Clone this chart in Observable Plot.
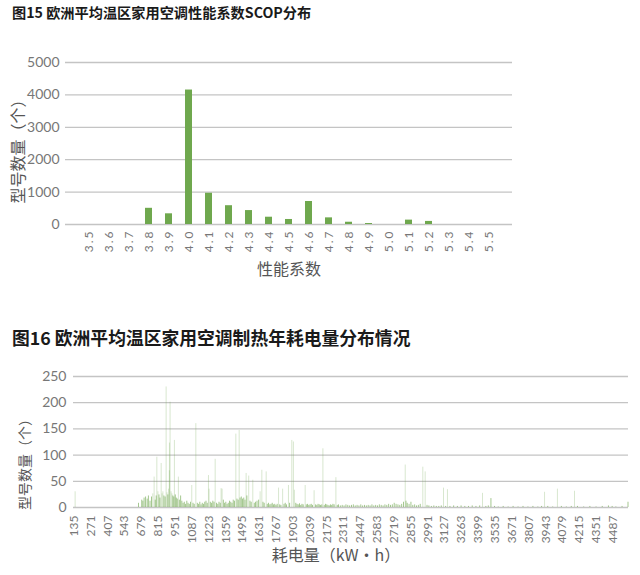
<!DOCTYPE html>
<html><head><meta charset="utf-8">
<script src="https://cdn.jsdelivr.net/npm/d3@7"></script>
<script src="https://cdn.jsdelivr.net/npm/@observablehq/plot@0.6"></script>
<style>
body{margin:0;background:#fff;width:640px;height:575px;position:relative;font-family:"Noto Sans CJK SC",sans-serif;}
.title{position:absolute;left:12px;font-weight:bold;color:#1a1a1a;white-space:nowrap;line-height:22px;}
#c1{position:absolute;top:40px;left:0}
#c2{position:absolute;top:350px;left:0}
#c1 g[aria-label="x-axis tick label"] text{letter-spacing:2px}
</style></head><body>
<div class="title" style="top:1px;font-size:14.2px">图15 欧洲平均温区家用空调性能系数SCOP分布</div>
<div id="c1"></div>
<div class="title" style="top:326px;font-size:17.8px">图16 欧洲平均温区家用空调制热年耗电量分布情况</div>
<div id="c2"></div>
<script>
// ---- Figure 15 data ----
const scopCategories = ["3.5","3.6","3.7","3.8","3.9","4.0","4.1","4.2","4.3","4.4","4.5","4.6","4.7","4.8","4.9","5.0","5.1","5.2","5.3","5.4","5.5"];
const scopCounts = [0,0,0,500,330,4150,965,580,430,225,155,710,205,70,30,0,135,95,0,0,0];
const scopYTicks = [0,1000,2000,3000,4000,5000];

// ---- Figure 16 data ----
const energyKWh = [143,655,681,690,700,712,725,735,748,760,770,781,790,798,803,812,820,828,838,845,852,860,870,878,885,892,898,904,905,910,918,925,932,940,945,952,960,968,977,985,995,
1005,1015,1025,1035,1045,1055,1065,1075,1085,1095,1105,1118,1130,1140,1150,1160,1170,1180,1190,1200,1210,1220,1225,1235,1245,1255,1265,1274,1285,1295,1305,1315,1322,1330,1340,1350,1360,1370,1380,1390,1400,1410,1420,1430,1441,1450,1460,1468,1475,1485,1495,1505,1515,1524,1530,1545,1555,1565,1578,1590,1600,1612,1625,1637,1651,1660,1670,1686,1695,
1705,1715,1725,1735,1745,1755,1765,1775,1786,1795,1805,1819,1830,1840,1850,1866,1875,1893,1906,1914,1925,1935,1945,1955,1965,1975,1985,2001,2010,2020,2030,2040,2050,2060,2073,2085,2095,2105,2115,2125,2135,2144,2155,2165,2175,2185,2195,2205,2215,2225,2235,2249,2260,2270,2285,2300,2315,2330,2345,2360,2375,2390,2405,2420,2435,2450,2465,2480,2495,
2510,2525,2540,2555,2570,2585,2600,2615,2630,2645,2660,2675,2690,2705,2720,2735,2750,2765,2780,2795,2809,2815,2825,2840,2855,2870,2885,2900,2915,2930,2951,2970,2985,3000,3020,3040,3060,3080,3100,3118,3135,3150,3170,3200,3230,3260,3290,3320,3350,3380,3410,3433,3460,3480,3501,3530,3560,3600,3640,3680,3720,3760,3800,3840,3880,3910,3934,3960,4000,4038,4070,4110,4150,4176,4200,4250,4300,4350,4400,4450,4480,4510,4560,4608];
const energyModels = [30,8,14,12,18,20,16,22,12,20,26,58,14,22,96,30,24,18,84,26,30,22,20,230,28,24,35,70,123,201,30,26,22,20,128,24,18,16,58,14,22,
12,8,10,6,12,8,6,10,42,8,6,160,8,6,10,5,8,6,10,12,8,61,35,10,8,12,10,92,8,6,10,8,36,35,14,8,10,6,8,12,10,8,14,12,140,16,14,147,18,20,16,18,14,65,22,60,12,10,52,8,10,12,14,30,71,10,8,68,6,
8,5,6,8,5,6,4,6,37,5,4,35,6,8,5,42,8,128,125,33,8,6,5,7,4,6,5,42,5,6,4,5,6,4,32,5,4,6,5,4,5,112,4,6,5,4,3,5,4,6,5,57,4,5,3,4,3,5,4,3,4,5,3,4,3,5,3,4,3,
4,3,5,3,4,3,5,4,3,5,4,6,4,5,8,6,5,4,6,10,81,12,8,6,10,4,5,3,4,6,77,68,4,3,2,3,2,2,3,37,2,34,2,3,2,3,2,2,3,2,3,27,2,3,17,2,1,2,1,2,1,2,1,2,1,2,29,2,1,35,2,1,2,31,2,1,2,1,2,3,2,1,2,10];
const energyTicks = [135,271,407,543,679,815,951,1087,1223,1359,1495,1631,1767,1903,2039,2175,2311,2447,2583,2719,2855,2991,3127,3263,3399,3535,3671,3807,3943,4079,4215,4351,4487];
const energyYTicks = [0,50,100,150,200,250];

const green = "#6fa84e";
const grid = "#c4c4c4";
const tickFont = "Lato, 'Open Sans', sans-serif";
const cjk = "'Noto Sans CJK SC', sans-serif";

const scopData = scopCategories.map((c, i) => ({c, n: scopCounts[i]}));
const chart1 = Plot.plot({
  width: 640, height: 250,
  marginTop: 22, marginBottom: 66, marginLeft: 65, marginRight: 128,
  style: {fontFamily: tickFont, color: "#777", background: "#fff"},
  x: {domain: scopCategories, padding: 0.64},
  y: {domain: [0, 5000]},
  marks: [
    Plot.gridY(scopYTicks, {stroke: grid, strokeOpacity: 1, strokeWidth: 1.3}),
    Plot.barY(scopData, {x: "c", y: "n", fill: green}),
    Plot.axisY({ticks: scopYTicks, tickFormat: d => String(d), tickSize: 0, tickPadding: 6, fontSize: 14, label: null, fill: "#777"}),
    Plot.axisX({tickRotate: -90, tickSize: 0, tickPadding: 5, fontSize: 12, label: null, fill: "#777"}),
    Plot.text(["性能系数"], {frameAnchor: "bottom", dy: 50, fontSize: 16, fill: "#555", fontFamily: cjk}),
    Plot.text(["型号数量（个）"], {frameAnchor: "left", textAnchor: "middle", dx: -47, dy: 4, rotate: -90, fontSize: 16, fill: "#555", fontFamily: cjk})
  ]
});
document.getElementById("c1").appendChild(chart1);

const energyData = energyKWh.map((k, i) => ({k, n: energyModels[i]}));
const chart2 = Plot.plot({
  width: 640, height: 222,
  marginTop: 26, marginBottom: 65, marginLeft: 73, marginRight: 12,
  style: {fontFamily: tickFont, color: "#777", background: "#fff"},
  x: {domain: [130, 4612]},
  y: {domain: [0, 250]},
  marks: [
    Plot.gridY(energyYTicks, {stroke: grid, strokeOpacity: 1, strokeWidth: 1.3}),
    Plot.ruleX(energyData, {x: "k", y: "n", stroke: green, strokeWidth: 0.9, strokeOpacity: d => d.n < 25 ? 0.7 : 0.3}),
    Plot.axisY({ticks: energyYTicks, tickSize: 0, tickPadding: 7, fontSize: 14, label: null, fill: "#777"}),
    Plot.axisX({ticks: energyTicks, tickFormat: d => String(d), tickRotate: -90, tickSize: 0, tickPadding: 8, fontSize: 12, label: null, fill: "#777"}),
    Plot.text(["耗电量（kW·h）"], {frameAnchor: "bottom", dx: -15, dy: 53, fontSize: 16, fill: "#555", fontFamily: cjk}),
    Plot.text(["型号数量（个）"], {frameAnchor: "left", textAnchor: "middle", dx: -48, dy: 19, rotate: -90, fontSize: 14, fill: "#555", fontFamily: cjk})
  ]
});
document.getElementById("c2").appendChild(chart2);
</script>
</body></html>
